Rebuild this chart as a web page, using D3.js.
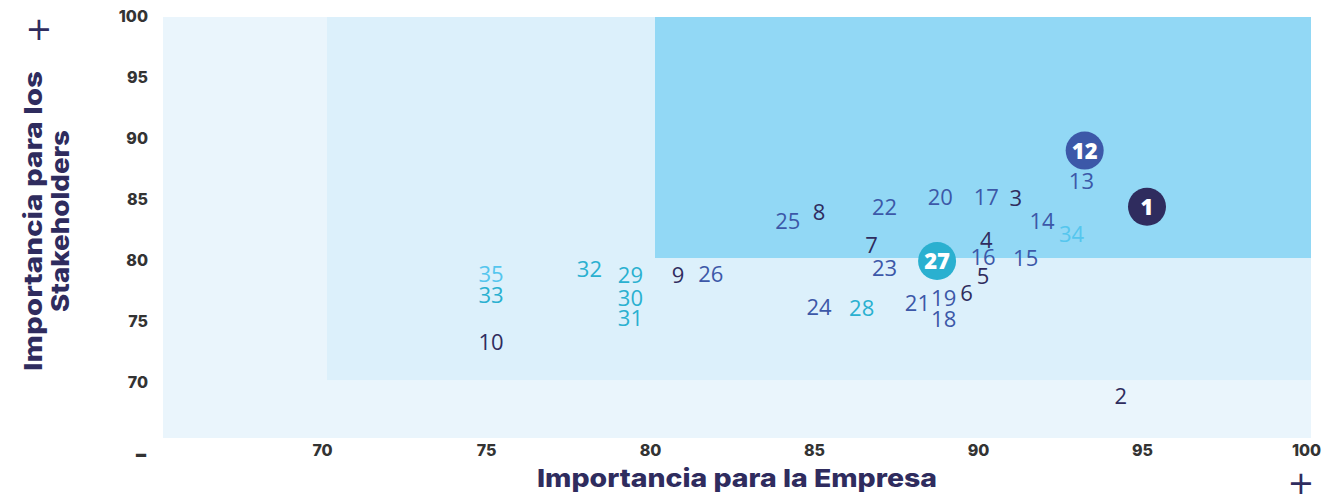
<!DOCTYPE html>
<html>
<head>
<meta charset="utf-8">
<script src="https://cdn.jsdelivr.net/npm/d3@7"></script>
<style>
  body { margin: 0; background: #fff; }
  svg { display: block; font-family: "Open Sans", "Noto Sans", sans-serif; }
</style>
</head>
<body>
<svg id="chart" width="1323" height="494"></svg>
<script>
// materiality matrix data
const ids          = [1, 2, 3, 4, 5, 6, 7, 8, 9, 10, 12, 13, 14, 15, 16, 17, 18, 19, 20, 21, 22, 23, 24, 25, 26, 27, 28, 29, 30, 31, 32, 33, 34, 35];
const empresa      = [95.0, 94.2, 91.0, 90.1, 90.0, 89.5, 86.6, 85.0, 80.7, 75.0, 93.1, 93.0, 91.8, 91.3, 90.0, 90.1, 88.8, 88.8, 88.7, 88.0, 87.0, 87.0, 85.0, 84.05, 81.7, 88.6, 86.3, 79.25, 79.25, 79.25, 78.0, 75.0, 92.7, 75.0];
const stakeholders = [84.2, 68.7, 84.9, 81.5, 78.5, 77.1, 81.1, 83.8, 78.6, 73.1, 88.8, 86.3, 83.0, 80.0, 80.1, 85.0, 75.0, 76.7, 85.0, 76.3, 84.2, 79.2, 76.0, 83.0, 78.7, 79.75, 75.9, 78.6, 76.7, 75.1, 79.1, 77.0, 82.0, 78.7];
const groups       = ["a", "a", "a", "a", "a", "a", "a", "a", "a", "a", "b", "b", "b", "b", "b", "b", "b", "b", "b", "b", "b", "b", "b", "b", "b", "c", "c", "c", "c", "c", "c", "c", "d", "d"];
const highlighted  = [1, 12, 27];

const xTicks = [70, 75, 80, 85, 90, 95, 100];
const yTicks = [70, 75, 80, 85, 90, 95, 100];

// priority zones (lower-left corner in data units, all run to the top-right)
const zoneX = [65, 70, 80];
const zoneY = [65.25, 70, 80];

const svg = d3.select("#chart");

const x = d3.scaleLinear().domain([65, 100]).range([163, 1311]);
const y = d3.scaleLinear().domain([65.25, 99.75]).range([438, 17]);

const color = d3.scaleOrdinal()
  .domain(["a", "b", "c", "d"])
  .range(["#2f2c5e", "#3c58a8", "#2ab0d0", "#55c6ee"]);

const zoneFill = ["#eaf5fc", "#dcf0fb", "#92d8f5"];

svg.append("g")
  .selectAll("rect")
  .data(zoneX)
  .join("rect")
  .attr("x", d => x(d))
  .attr("y", y(99.75))
  .attr("width", d => x(100) - x(d))
  .attr("height", (d, i) => y(zoneY[i]) - y(99.75))
  .attr("fill", (d, i) => zoneFill[i]);

// axes: labels only
const xAxis = svg.append("g")
  .attr("transform", "translate(-5,441)")
  .call(d3.axisBottom(x).tickValues(xTicks).tickSize(0).tickPadding(4));
xAxis.select(".domain").remove();
xAxis.selectAll("text")
  .attr("font-family", "Inter, 'Open Sans', sans-serif")
  .attr("font-size", 16).attr("font-weight", 800).attr("fill", "#333");

const yAxis = svg.append("g")
  .attr("transform", "translate(148,2)")
  .call(d3.axisLeft(y).tickValues(yTicks).tickSize(0).tickPadding(0));
yAxis.select(".domain").remove();
yAxis.selectAll("text")
  .attr("font-family", "Inter, 'Open Sans', sans-serif")
  .attr("font-size", 16).attr("font-weight", 800).attr("fill", "#333");

// minus / plus markers
svg.append("text").attr("x", 141).attr("y", 462).attr("text-anchor", "middle")
  .attr("font-size", 24).attr("font-weight", 800).attr("fill", "#333").text("–");
svg.append("text").attr("x", 39).attr("y", 40).attr("text-anchor", "middle")
  .attr("font-family", "'DejaVu Sans', sans-serif")
  .attr("font-size", 32).attr("font-weight", 400).attr("fill", "#2f2c5e").text("+");
svg.append("text").attr("x", 1301).attr("y", 494).attr("text-anchor", "middle")
  .attr("font-family", "'DejaVu Sans', sans-serif")
  .attr("font-size", 32).attr("font-weight", 400).attr("fill", "#2f2c5e").text("+");

// axis titles
svg.append("text")
  .attr("x", 737).attr("y", 487).attr("text-anchor", "middle")
  .attr("font-family", "Inter, 'Open Sans', sans-serif")
  .attr("font-size", 25).attr("font-weight", 800).attr("fill", "#2f2c5e")
  .attr("textLength", 400).attr("lengthAdjust", "spacingAndGlyphs")
  .text("Importancia para la Empresa");

const yTitle = svg.append("text")
  .attr("transform", "translate(0,221) rotate(-90)")
  .attr("text-anchor", "middle")
  .attr("font-family", "Inter, 'Open Sans', sans-serif")
  .attr("font-size", 25).attr("font-weight", 800).attr("fill", "#2f2c5e");
yTitle.append("tspan").attr("x", 0).attr("y", 42)
  .attr("textLength", 300).attr("lengthAdjust", "spacingAndGlyphs")
  .text("Importancia para los");
yTitle.append("tspan").attr("x", 0).attr("y", 69)
  .attr("textLength", 182).attr("lengthAdjust", "spacingAndGlyphs")
  .text("Stakeholders");

// points
const points = ids.map((id, i) => ({ id, ex: empresa[i], st: stakeholders[i], g: groups[i] }));

const pt = svg.append("g")
  .selectAll("g")
  .data(points)
  .join("g")
  .attr("transform", d => `translate(${x(d.ex)},${y(d.st)})`);

pt.filter(d => highlighted.includes(d.id))
  .append("circle")
  .attr("r", 19)
  .attr("fill", d => color(d.g));

pt.append("text")
  .attr("text-anchor", "middle")
  .attr("dy", "0.36em")
  .attr("font-family", "'Open Sans', sans-serif")
  .attr("font-size", d => highlighted.includes(d.id) ? 22 : 22)
  .attr("font-weight", d => highlighted.includes(d.id) ? 800 : 400)
  .attr("fill", d => highlighted.includes(d.id) ? "#fff" : color(d.g))
  .text(d => d.id);
</script>
</body>
</html>
